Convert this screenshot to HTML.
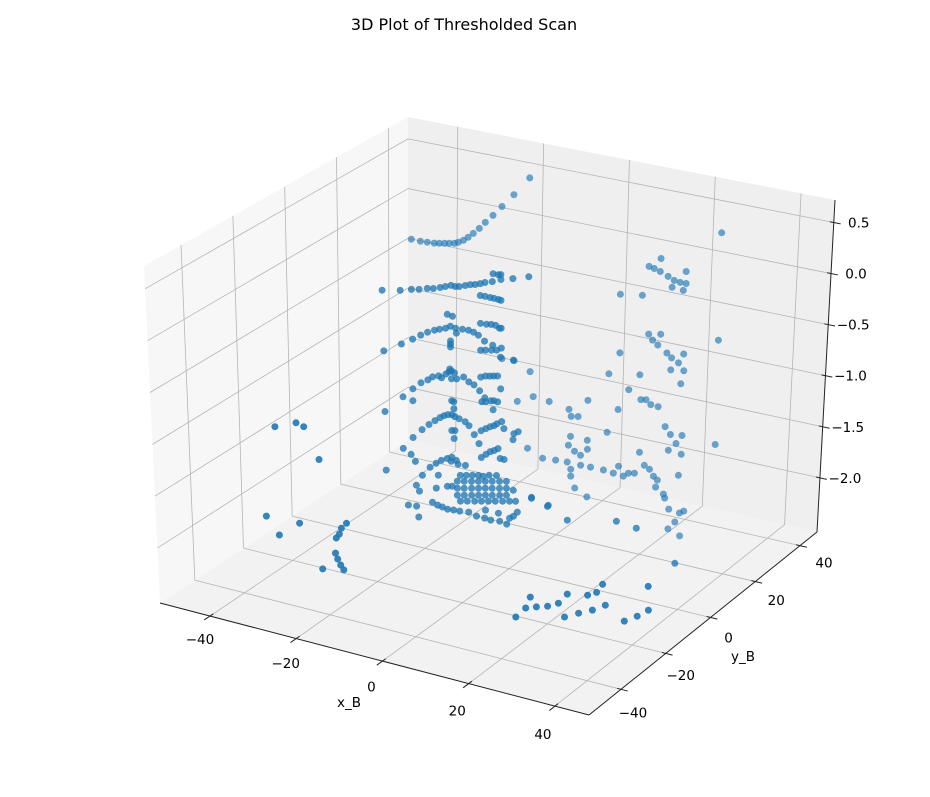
<!DOCTYPE html>
<html><head><meta charset="utf-8"><style>
html,body{margin:0;padding:0;background:#fff;}
svg{display:block;font-family:"DejaVu Sans","Liberation Sans",sans-serif;}
</style></head><body>
<svg id="chart" width="930" height="797" viewBox="0 0 930 797" xmlns="http://www.w3.org/2000/svg">
<text x="464" y="30" text-anchor="middle" font-size="16">3D Plot of Thresholded Scan</text>
<g id="panes"></g>
<g id="grid"></g>
<g id="axes"></g>
<g id="points"></g>
<g id="labels"></g>
<text x="349" y="707" text-anchor="middle" font-size="13.5">x_B</text>
<text x="743" y="661" text-anchor="middle" font-size="13.5">y_B</text>
</svg>
<script>
const xTicks=[-40,-20,0,20,40];
const yTicks=[-40,-20,0,20,40];
const zTicks=[-2.0,-1.5,-1.0,-0.5,0.0,0.5];
const zTickLabels=["\u22122.0","\u22121.5","\u22121.0","\u22120.5","0.0","0.5"];
const xTickLabels=["\u221240","\u221220","0","20","40"];
const yTickLabels=["\u221240","\u221220","0","20","40"];
const groupDepthY=[32.3,-3.4,-39.0];
const backX=[-12.3,-16.0,-18.8,-20.9,-22.7,-24.1,-25.5,-26.7,-27.8,-29.0,-29.9,-31.1,-32.2,-33.4,-34.6,-36.2,-37.8,-39.9,
32.2,18.1,15.3,16.5,17.9,19.7,21.1,22.5,23.9,23.9,20.6,23.2,8.6,13.7,31.3,
17.9,15.1,16.0,17.2,19.3,20.4,22.0,23.2,23.2,20.2,22.5,8.4,13.0,5.8,10.4,13.2,14.4,15.5,17.2,7.9,18.8,20.0,22.7,21.3,5.3,30.4,19.5,22.5,12.8,13.9,15.1,16.0,16.9,16.5,18.3,18.6,21.8,19.5,22.0,23.0,20.9,19.3,22.0,7.9,
-3.5,-3.0,-1.4,0.9,-3.2,-3.7,-2.3,-0.9,0.7,0.7,-3.2,-3.2,-0.9,1.4,4.4,6.7,9.0,10.2,11.6,-6.7,-9.7,-13.2,-8.1,-15.5,-11.8,-2.3,0.5,-4.0,-12.5,-16.2,-19.0];
const backZ=[0.616,0.411,0.265,0.155,0.067,-0.007,-0.071,-0.122,-0.164,-0.196,-0.216,-0.228,-0.241,-0.254,-0.266,-0.274,-0.282,-0.286,
0.569,0.163,0.055,0.048,0.034,0.006,-0.018,-0.022,-0.017,0.100,-0.091,-0.092,-0.291,-0.244,-0.489,
-0.578,-0.608,-0.656,-0.691,-0.746,-0.782,-0.813,-0.713,-0.877,-0.901,-1.012,-0.865,-1.028,-1.097,-1.202,-1.268,-1.256,-1.291,-1.293,-1.423,-1.470,-1.534,-1.514,-1.607,-1.674,-1.517,-1.694,-1.700,-1.787,-1.901,-1.927,-1.985,-2.013,-2.086,-2.134,-2.170,-1.912,-2.267,-2.278,-2.248,-2.378,-2.463,-2.501,-1.976,
-1.547,-1.610,-1.593,-1.411,-1.807,-1.899,-1.942,-1.966,-1.890,-1.802,-2.195,-2.127,-2.063,-2.056,-2.052,-2.057,-2.061,-2.019,-2.004,-2.077,-2.091,-2.032,-1.520,-1.601,-1.513,-2.301,-2.357,-2.066,-1.277,-1.211,-1.222];
const midX=[-27.3,-23.1,-20.5,-18.7,-16.8,-15.4,-13.8,-12.6,-11.3,-10.3,-9.4,-8.0,-6.8,-5.7,-4.5,-3.4,-1.7,0.3,3.1,6.8,-1.5,-0.3,0.3,
-4.5,-3.4,-2.2,-1.3,-0.3,0.3,-12.2,-11.0,
-4.5,-3.1,-2.0,-1.0,-0.1,0.3,
-27.0,-22.9,-20.3,-18.4,-16.8,-15.2,-14.0,-12.6,-11.5,-10.3,-10.1,-8.7,-7.3,-6.1,-5.0,-3.6,-1.7,0.3,-11.5,-11.5,-11.5,
-4.5,-3.4,-2.0,-0.8,0.1,3.1,-11.7,
-18.4,-16.8,-15.7,-14.3,-13.6,-12.6,-11.9,-11.3,-10.6,-10.1,-11.3,-8.5,-7.3,-6.1,-4.8,-3.6,
-4.5,-3.4,-2.4,-1.5,-0.6,-20.3,-22.6,-20.3,-26.8,0.1,-1.7,-0.6,
-4.3,-3.4,-2.2,-1.5,-11.3,-10.8,-10.8,
-20.3,-18.2,-16.6,-15.2,-14.0,-13.1,-12.2,-11.3,-10.6,-9.6,-8.2,-7.3,-6.1,-5.0,-11.3,-10.6,-10.8,
-4.5,-3.4,-2.4,-1.5,-0.8,0.3,0.8,3.1,4.1,2.9,
-22.6,-20.8,-19.8,-26.6,-18.2,-16.4,-15.0,-13.8,-12.4,-11.3,-10.3,-9.9,-8.2,-11.5,
-4.5,-3.4,-2.4,-1.5,-0.6,-0.1,0.8,
-14.5,-9.4,-8.0,-6.6,-5.2,-4.1,-2.7,-1.0,-19.6,-18.9,-15.0,-12.4,-11.3,
-15.9,-14.7,-13.6,-12.4,-11.0,-9.6,-7.5,-5.7,-3.8,-2.4,-0.3,1.3,2.9,3.8,3.4,2.9,7.1,11.0,-21.5,-19.6,-19.1,-3.6,-0.6,2.0,
-10.1,-8.5,-6.8,-5.2,-3.6,-2.0,-0.3,1.3,
-10.1,-8.5,-6.8,-5.2,-3.6,-2.0,-0.3,1.3,
-10.1,-8.5,-6.8,-5.2,-3.6,-2.0,-0.3,1.3,
-9.4,-7.8,-6.1,-4.5,-2.9,-1.3,0.4,2.0,
40.3,31.4,26.8,15.4,10.8,7.1];
const midZ=[-0.054,-0.009,0.029,0.049,0.079,0.094,0.121,0.144,0.169,0.169,0.179,0.204,0.226,0.239,0.261,0.284,0.312,0.354,0.394,0.453,0.391,0.394,0.402,
0.145,0.148,0.151,0.152,0.152,0.150,-0.123,-0.129,
-0.127,-0.121,-0.109,-0.108,-0.126,-0.121,
-0.643,-0.530,-0.454,-0.394,-0.348,-0.311,-0.288,-0.263,-0.231,-0.238,-0.284,-0.230,-0.225,-0.231,-0.248,-0.290,-0.309,-0.315,-0.376,-0.405,-0.434,
-0.389,-0.376,-0.361,-0.348,-0.406,-0.402,-0.651,
-0.860,-0.814,-0.772,-0.747,-0.758,-0.710,-0.682,-0.665,-0.677,-0.730,-0.743,-0.694,-0.729,-0.745,-0.788,-0.843,
-0.651,-0.628,-0.618,-0.608,-0.598,-0.939,-1.042,-1.055,-1.232,-0.716,-0.940,-0.850,
-0.890,-0.880,-0.857,-0.850,-0.956,-0.961,-1.029,
-1.414,-1.314,-1.247,-1.193,-1.151,-1.122,-1.102,-1.092,-1.104,-1.113,-1.127,-1.156,-1.230,-1.306,-1.247,-1.240,-1.320,
-1.174,-1.142,-1.113,-1.093,-1.066,-1.033,-1.096,-1.120,-1.090,-1.181,
-1.546,-1.584,-1.642,-1.802,-1.760,-1.662,-1.608,-1.566,-1.532,-1.509,-1.528,-1.562,-1.554,-1.550,
-1.436,-1.394,-1.355,-1.335,-1.306,-1.397,-1.397,
-1.719,-1.664,-1.649,-1.633,-1.618,-1.616,-1.590,-1.573,-1.872,-1.922,-1.850,-1.804,-1.791,
-1.997,-2.013,-2.019,-2.027,-2.020,-2.015,-2.002,-2.021,-2.020,-2.024,-2.011,-2.022,-1.928,-1.878,-1.777,-1.675,-1.697,-1.732,-2.086,-2.076,-2.177,-1.939,-1.937,-1.957,
-1.729,-1.712,-1.694,-1.676,-1.658,-1.641,-1.623,-1.605,
-1.797,-1.780,-1.762,-1.744,-1.726,-1.709,-1.691,-1.673,
-1.865,-1.848,-1.830,-1.812,-1.794,-1.777,-1.759,-1.741,
-1.915,-1.898,-1.880,-1.862,-1.844,-1.827,-1.809,-1.791,
-1.976,-1.732,-1.715,-1.829,-1.745,-1.707];
const frontX=[-33.0,-28.1,-26.3,-22.8,-35.1,-32.1,-27.4,-16.5,-17.7,-18.2,-18.9,-19.1,-18.6,-17.9,-17.2,-22.1,
22.7,25.0,26.1,27.5,30.1,32.6,34.0,34.7,37.3,39.4,40.5,41.5,42.9,43.5,47.9,50.9,53.5,53.5];
const frontZ=[-0.859,-0.767,-0.785,-1.067,-1.754,-1.906,-1.739,-1.620,-1.681,-1.744,-1.790,-1.939,-1.992,-2.042,-2.083,-2.127,
-2.104,-1.991,-1.872,-1.953,-1.917,-1.860,-1.980,-1.749,-1.906,-1.708,-1.841,-1.657,-1.563,-1.760,-1.867,-1.786,-1.699,-1.467];

const xmin=-51.6,xmax=47.9,ymin=-54.3,ymax=47.6,zmin=-2.53,zmax=0.72;
const NS="http://www.w3.org/2000/svg";
const cB={mm:[160,603],pm:[589,715],pp:[817,532],mp:[408,440]};
const cT={mm:[144,266],pm:[594,370],pp:[835,200],mp:[408,117]};
function nu(x){return (x-xmin)/(xmax-xmin);}
function nv(y){return (y-ymin)/(ymax-ymin);}
function nw(z){return (z-zmin)/(zmax-zmin);}
function bil(c,u,v){
  const a0=c.mm[0]+(c.pm[0]-c.mm[0])*u, a1=c.mm[1]+(c.pm[1]-c.mm[1])*u;
  const b0=c.mp[0]+(c.pp[0]-c.mp[0])*u, b1=c.mp[1]+(c.pp[1]-c.mp[1])*u;
  return [a0+(b0-a0)*v,a1+(b1-a1)*v];
}
function P(x,y,z){
  const u=nu(x),v=nv(y),w=nw(z);
  const b=bil(cB,u,v),t=bil(cT,u,v);
  return [b[0]+(t[0]-b[0])*w,b[1]+(t[1]-b[1])*w];
}
function projectPoint(x,y,z){
  const u=nu(x),v=nv(y),w=nw(z);
  return [160+429*u+238*v-2*w,603+112*u-173*v-333*w];
}
function mk(tag,attrs,parent){
  const e=document.createElementNS(NS,tag);
  for(const k in attrs)e.setAttribute(k,attrs[k]);
  parent.appendChild(e);return e;
}
const gP=document.getElementById('panes'),gG=document.getElementById('grid'),gA=document.getElementById('axes'),gPt=document.getElementById('points'),gL=document.getElementById('labels');
function poly(pts,fill,name){
  const e=mk('polygon',{points:pts.map(p=>p.join(',')).join(' '),fill:fill},gP);
  
  
}
poly([P(xmin,ymin,zmin),P(xmax,ymin,zmin),P(xmax,ymax,zmin),P(xmin,ymax,zmin)],'#f2f2f2','floor-pane');
poly([P(xmin,ymin,zmin),P(xmin,ymax,zmin),P(xmin,ymax,zmax),P(xmin,ymin,zmax)],'#f7f7f7','left-wall-pane');
poly([P(xmin,ymax,zmin),P(xmax,ymax,zmin),P(xmax,ymax,zmax),P(xmin,ymax,zmax)],'#efefef','back-wall-pane');
function line(a,b,stroke,sw,parent,name){
  const e=mk('line',{x1:a[0],y1:a[1],x2:b[0],y2:b[1],stroke:stroke,'stroke-width':sw},parent);
  
  
  return e;
}
const GC='#b5b5b5';
xTicks.forEach(t=>{
  line(P(t,ymin,zmin),P(t,ymax,zmin),GC,0.8,gG,'floor-x-gridline');
  line(P(t,ymax,zmin),P(t,ymax,zmax),GC,0.8,gG,'back-x-gridline');
});
yTicks.forEach(t=>{
  line(P(xmin,t,zmin),P(xmax,t,zmin),GC,0.8,gG,'floor-y-gridline');
  line(P(xmin,t,zmin),P(xmin,t,zmax),GC,0.8,gG,'left-y-gridline');
});
zTicks.forEach(t=>{
  line(P(xmin,ymin,t),P(xmin,ymax,t),GC,0.8,gG,'left-z-gridline');
  line(P(xmin,ymax,t),P(xmax,ymax,t),GC,0.8,gG,'back-z-gridline');
});
line(P(xmin,ymin,zmin),P(xmax,ymin,zmin),'#222',1,gA,'x-axis-line');
line(P(xmax,ymin,zmin),P(xmax,ymax,zmin),'#222',1,gA,'y-axis-line');
line(P(xmax,ymax,zmin),P(xmax,ymax,zmax),'#222',1,gA,'z-axis-line');
function norm(a,b){const dx=b[0]-a[0],dy=b[1]-a[1],l=Math.hypot(dx,dy);return [dx/l,dy/l];}
function tick(base,d,name){line([base[0]-d[0]*4,base[1]-d[1]*4],[base[0]+d[0]*7,base[1]+d[1]*7],'#222',1,gA,name);}
function label(x,y,txt,name){
  const e=mk('text',{x:x,y:y,'text-anchor':'middle','dominant-baseline':'middle','font-size':'13.5'},gL);
  e.textContent=txt;
  
  
}
xTicks.forEach((t,i)=>{
  const b=P(t,ymin,zmin),d=norm(P(t,ymax,zmin),b);
  tick(b,d,'x-tick');
  const f=i/(xTicks.length-1);
  label(b[0]-10-2*f,b[1]+24+5*f,xTickLabels[i],'x-tick-label');
});
yTicks.forEach((t,i)=>{
  const b=P(xmax,t,zmin),d=norm(P(xmin,t,zmin),b);
  tick(b,d,'y-tick');
  const f=i/(yTicks.length-1);
  label(b[0]+12+12*f,b[1]+24-6*f,yTickLabels[i],'y-tick-label');
});
zTicks.forEach((t,i)=>{
  const b=P(xmax,ymax,t),d=norm(P(xmin,ymax,t),b);
  tick(b,d,'z-tick');
  label(b[0]+25,b[1]+1,zTickLabels[i],'z-tick-label');
});
const pts=[];
function addGroup(xs,zs,gi){for(let i=0;i<xs.length;i++)pts.push([xs[i],groupDepthY[gi],zs[i]]);}
addGroup(backX,backZ,0);addGroup(midX,midZ,1);addGroup(frontX,frontZ,2);
pts.sort((a,b)=>b[1]-a[1]);
pts.forEach(p=>{
  const s=projectPoint(p[0],p[1],p[2]);
  const op=0.95-0.35*nv(p[1]);
  const c=mk('circle',{cx:s[0].toFixed(1),cy:s[1].toFixed(1),r:3.5,fill:'#1f77b4','fill-opacity':op.toFixed(2)},gPt);
  
  
});
</script>
</body></html>
